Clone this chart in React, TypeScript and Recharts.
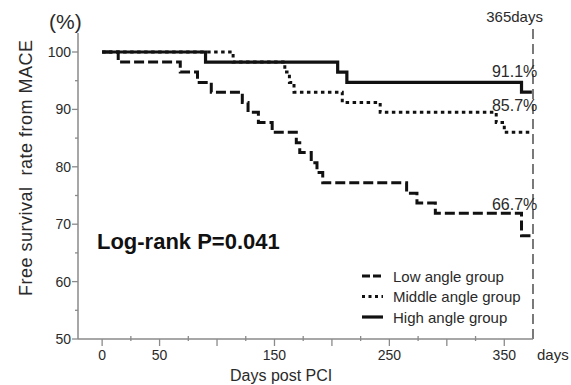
import React from 'react';
import { LineChart, Line, XAxis, YAxis, ReferenceLine, ReferenceDot, Legend } from 'recharts';

// Kaplan-Meier step data (day, % free from MACE)
const lowDays = [0, 14, 68, 83, 95, 122, 127, 136, 148, 169, 172, 182, 187, 192, 265, 274, 290, 365, 374];
const lowSurvival = [100, 98.25, 96.5, 94.7, 93.0, 91.2, 89.5, 87.7, 86.0, 84.2, 82.5, 80.7, 79.0, 77.2, 75.4, 73.7, 71.9, 68.0, 68.0];
const middleDays = [0, 114, 159, 163, 167, 209, 242, 343, 350, 372];
const middleSurvival = [100, 98.25, 96.5, 94.7, 93.0, 91.2, 89.5, 87.7, 86.0, 86.0];
const highDays = [0, 90, 205, 213, 365, 374];
const highSurvival = [100, 98.25, 96.5, 94.7, 93.0, 93.0];

const xTicks = [0, 25, 50, 75, 100, 125, 150, 175, 200, 225, 250, 275, 300, 325, 350];
const xTickLabels = [0, 50, 150, 250, 350];
const yTicks = [50, 55, 60, 65, 70, 75, 80, 85, 90, 95, 100];
const yTickLabels = [50, 60, 70, 80, 90, 100];

const seriesNames = ['Low angle group', 'Middle angle group', 'High angle group'];
const cutoffDay = 375;

const FONT = '"Liberation Sans", Arial, Helvetica, sans-serif';
const TEXT = '#2a2a2a';
const AXIS = '#8a8a8a';

const toData = (days: number[], vals: number[]) => days.map((d, i) => ({ day: d, survival: vals[i] }));
const lowData = toData(lowDays, lowSurvival);
const middleData = toData(middleDays, middleSurvival);
const highData = toData(highDays, highSurvival);

type Note = { x: number; y: number; text: string; size: number; anchor: 'start' | 'middle' | 'end'; bold?: boolean; rotate?: boolean; length?: number };
const notes: Note[] = [
  { x: 359, y: 95.6, text: '91.1%', size: 16, anchor: 'middle' },
  { x: 359, y: 89.7, text: '85.7%', size: 16, anchor: 'middle' },
  { x: 359, y: 72.5, text: '66.7%', size: 16, anchor: 'middle' },
  { x: -4.5, y: 65.7, text: 'Log-rank P=0.041', size: 22, anchor: 'start', bold: true },
  { x: 359, y: 105.2, text: '365days', size: 15, anchor: 'middle' },
  { x: -32, y: 104.0, text: '(%)', size: 21, anchor: 'middle' },
  { x: 155.8, y: 42.7, text: 'Days post PCI', size: 16, anchor: 'middle' },
  { x: 378.5, y: 46.3, text: 'days', size: 15, anchor: 'start' },
  { x: -60.9, y: 79.8, text: 'Free survival  rate from MACE', size: 18, anchor: 'middle', rotate: true, length: 256 },
];

const XTick = (props: any) => {
  const { x, y, payload } = props;
  const v = payload.value as number;
  const major = v % 50 === 0;
  return (
    <g>
      {major ? (
        <line x1={x} x2={x} y1={y} y2={y + 7} stroke={AXIS} strokeWidth={1.3} />
      ) : (
        <line x1={x} x2={x} y1={y - 3} y2={y + 2} stroke={AXIS} strokeWidth={1.3} />
      )}
      {xTickLabels.includes(v) && (
        <text x={x} y={y + 21} textAnchor="middle" fontSize={14} fontFamily={FONT} fill={TEXT}>
          {v}
        </text>
      )}
    </g>
  );
};

const YTick = (props: any) => {
  const { x, y, payload } = props;
  const v = payload.value as number;
  const major = yTickLabels.includes(v);
  return (
    <g>
      <line x1={major ? x - 6 : x - 3} x2={x} y1={y} y2={y} stroke={AXIS} strokeWidth={1.3} />
      {major && (
        <text x={x - 7} y={y + 5} textAnchor="end" fontSize={14} fontFamily={FONT} fill={TEXT}>
          {v}
        </text>
      )}
    </g>
  );
};

const legendStyles = [
  { dash: '8 3', width: 3 },
  { dash: '3 3.5', width: 3 },
  { dash: undefined, width: 3.2 },
];

const LegendContent = () => (
  <svg width={180} height={64}>
    {seriesNames.map((name, i) => {
      const cy = 11 + i * 20.5;
      return (
        <g key={name}>
          <line x1={2} x2={23} y1={cy} y2={cy} stroke="#111" strokeWidth={legendStyles[i].width} strokeDasharray={legendStyles[i].dash} />
          <text x={33} y={cy + 5.5} fontSize={15} fontFamily={FONT} fill={TEXT}>
            {name}
          </text>
        </g>
      );
    })}
  </svg>
);

export default function App() {
  return (
    <div style={{ position: 'absolute', left: 0, top: 0, width: 571, height: 385, background: '#fff' }}>
      <LineChart width={571} height={385} margin={{ top: 33, right: 38, bottom: 16, left: 18 }}>
        <XAxis
          type="number"
          dataKey="day"
          domain={[-21, 375]}
          ticks={xTicks}
          interval={0}
          tickSize={0}
          tickMargin={0}
          tickLine={false}
          tick={<XTick />}
          height={30}
          allowDataOverflow
          axisLine={{ stroke: AXIS, strokeWidth: 1.5 }}
        />
        <YAxis
          type="number"
          domain={[50, 103.31]}
          ticks={yTicks}
          interval={0}
          tickSize={0}
          tickMargin={0}
          tickLine={false}
          tick={<YTick />}
          width={60}
          allowDataOverflow
          axisLine={{ stroke: AXIS, strokeWidth: 1.5 }}
        />
        <ReferenceLine
          segment={[{ x: cutoffDay, y: 50 }, { x: cutoffDay, y: 104.4 }]}
          stroke="#333"
          strokeWidth={1.3}
          strokeDasharray="10 5"
          ifOverflow="visible"
        />
        <Line data={lowData} dataKey="survival" name={seriesNames[0]} type="stepAfter" stroke="#111" strokeWidth={3} strokeDasharray="10 4" dot={false} activeDot={false} isAnimationActive={false} />
        <Line data={middleData} dataKey="survival" name={seriesNames[1]} type="stepAfter" stroke="#111" strokeWidth={3} strokeDasharray="3.5 3.5" dot={false} activeDot={false} isAnimationActive={false} />
        <Line data={highData} dataKey="survival" name={seriesNames[2]} type="stepAfter" stroke="#111" strokeWidth={3.2} dot={false} activeDot={false} isAnimationActive={false} />
        {notes.map((n) => (
          <ReferenceDot
            key={n.text}
            x={n.x}
            y={n.y}
            r={0}
            ifOverflow="visible"
            shape={(p: any) => (
              <text
                x={p.cx}
                y={p.cy}
                textAnchor={n.anchor}
                fontSize={n.size}
                fontFamily={FONT}
                fontWeight={n.bold ? 700 : 400}
                fill={n.bold ? '#111' : TEXT}
                transform={n.rotate ? `rotate(-90, ${p.cx}, ${p.cy})` : undefined}
                textLength={n.length}
                lengthAdjust={n.length ? 'spacing' : undefined}
                style={{ whiteSpace: 'pre' }}
              >
                {n.text}
              </text>
            )}
          />
        ))}
        <Legend
          layout="vertical"
          align="center"
          verticalAlign="middle"
          content={<LegendContent />}
          wrapperStyle={{ left: 360, top: 265, width: 180, height: 64 }}
        />
      </LineChart>
    </div>
  );
}
